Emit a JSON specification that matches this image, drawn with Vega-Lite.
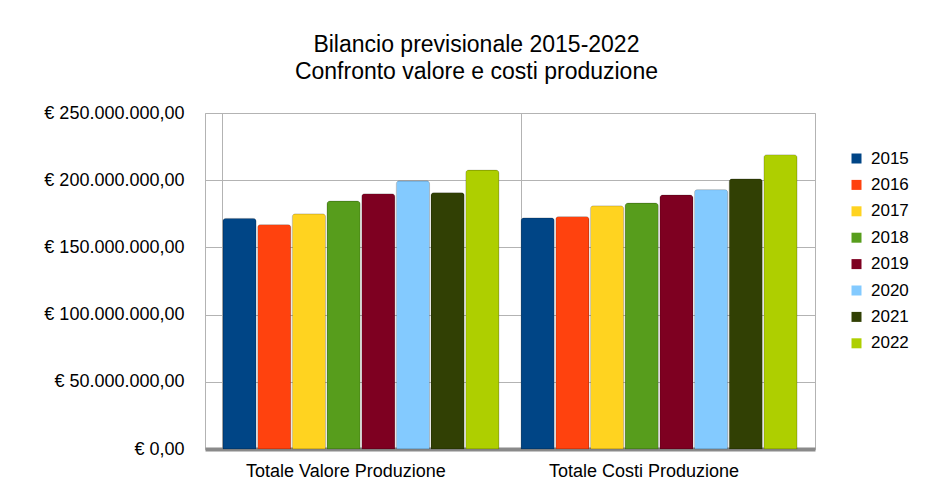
{
  "$schema": "https://vega.github.io/schema/vega-lite/v6.json",
  "autosize": "none",
  "width": 610,
  "height": 336,
  "padding": {"left": 205, "top": 113, "right": 110, "bottom": 40},
  "background": "white",
  "config": {
    "font": "Liberation Sans",
    "locale": {"number": {"decimal": ",", "thousands": ".", "grouping": [3], "currency": ["€ ", ""]}},
    "view": {"stroke": "#b3b3b3", "strokeWidth": 1}
  },
  "title": {
    "text": ["Bilancio previsionale 2015-2022", "Confronto valore e costi produzione"],
    "fontSize": 23,
    "fontWeight": "normal",
    "color": "#000000",
    "lineHeight": 27,
    "anchor": "middle",
    "frame": "bounds",
    "offset": 20
  },
  "data": {
    "values": [
      {"voce": "Totale Valore Produzione", "anno": "2015", "valore": 171600000},
      {"voce": "Totale Valore Produzione", "anno": "2016", "valore": 167000000},
      {"voce": "Totale Valore Produzione", "anno": "2017", "valore": 175000000},
      {"voce": "Totale Valore Produzione", "anno": "2018", "valore": 184500000},
      {"voce": "Totale Valore Produzione", "anno": "2019", "valore": 190000000},
      {"voce": "Totale Valore Produzione", "anno": "2020", "valore": 199500000},
      {"voce": "Totale Valore Produzione", "anno": "2021", "valore": 190800000},
      {"voce": "Totale Valore Produzione", "anno": "2022", "valore": 207500000},
      {"voce": "Totale Costi Produzione", "anno": "2015", "valore": 172000000},
      {"voce": "Totale Costi Produzione", "anno": "2016", "valore": 173000000},
      {"voce": "Totale Costi Produzione", "anno": "2017", "valore": 181000000},
      {"voce": "Totale Costi Produzione", "anno": "2018", "valore": 183000000},
      {"voce": "Totale Costi Produzione", "anno": "2019", "valore": 189000000},
      {"voce": "Totale Costi Produzione", "anno": "2020", "valore": 193000000},
      {"voce": "Totale Costi Produzione", "anno": "2021", "valore": 201000000},
      {"voce": "Totale Costi Produzione", "anno": "2022", "valore": 219000000}
    ]
  },
  "mark": {"type": "bar", "cornerRadiusTopLeft": 3, "cornerRadiusTopRight": 3, "stroke": "#00000033", "strokeWidth": 0.8},
  "encoding": {
    "x": {
      "field": "voce",
      "type": "nominal",
      "sort": ["Totale Valore Produzione", "Totale Costi Produzione"],
      "scale": {"paddingInner": 0.074, "paddingOuter": 0.06},
      "axis": {
        "title": null,
        "labelAngle": 0,
        "labelFontSize": 18,
        "labelLimit": 0,
        "labelColor": "#000000",
        "labelPadding": 13,
        "labelOffset": -15,
        "ticks": false,
        "grid": true,
        "bandPosition": 0,
        "gridColor": "#b3b3b3",
        "domainColor": "#8a8a8a",
        "domainWidth": 4
      }
    },
    "xOffset": {
      "field": "anno",
      "type": "nominal",
      "scale": {"paddingInner": 0.04}
    },
    "y": {
      "field": "valore",
      "type": "quantitative",
      "scale": {"domain": [0, 250000000]},
      "axis": {
        "title": null,
        "values": [0, 50000000, 100000000, 150000000, 200000000, 250000000],
        "format": "$,.2f",
        "labelFontSize": 18,
        "labelColor": "#000000",
        "labelPadding": 21,
        "ticks": false,
        "domain": false,
        "gridColor": "#b3b3b3"
      }
    },
    "color": {
      "field": "anno",
      "type": "nominal",
      "scale": {
        "domain": ["2015", "2016", "2017", "2018", "2019", "2020", "2021", "2022"],
        "range": ["#004586", "#ff420e", "#ffd320", "#579d1c", "#7e0021", "#83caff", "#314004", "#aecf00"]
      },
      "legend": {
        "title": null,
        "orient": "none",
        "legendX": 643,
        "legendY": 37,
        "symbolType": "square",
        "symbolSize": 100,
        "symbolStrokeWidth": 0,
        "labelFontSize": 17,
        "labelColor": "#000000",
        "labelOffset": 6,
        "rowPadding": 8.4
      }
    }
  }
}
